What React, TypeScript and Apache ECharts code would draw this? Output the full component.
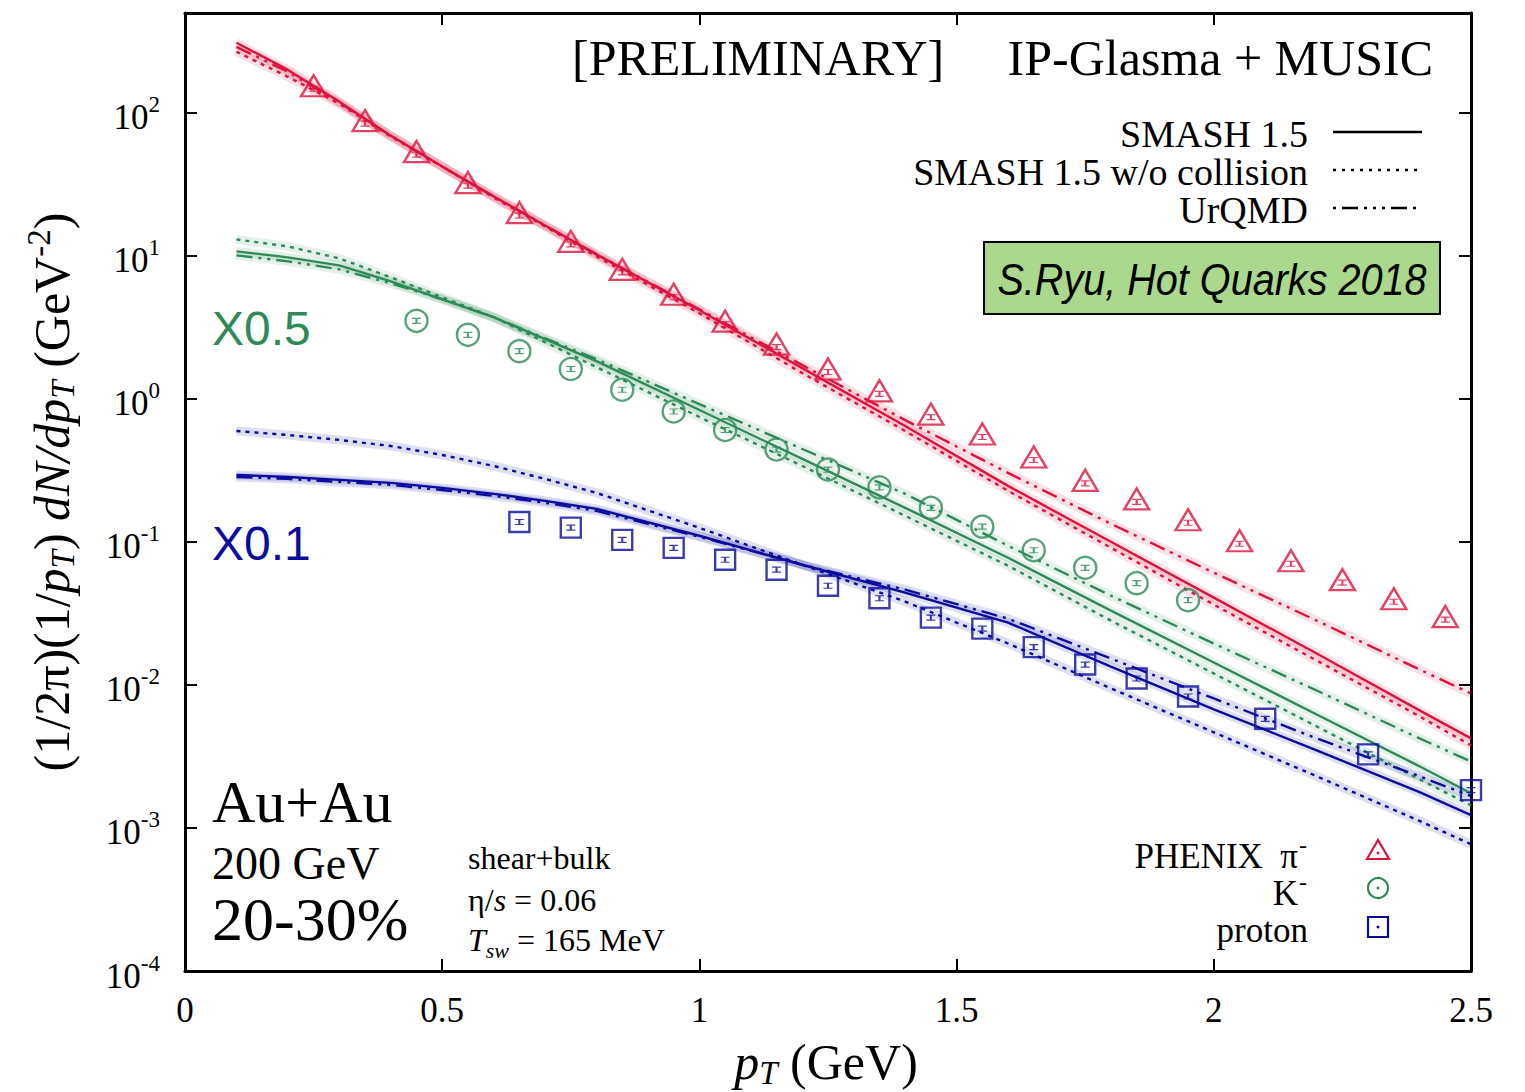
import React, { useEffect, useRef } from 'react';
import * as echarts from 'echarts';

const SERIF = '"Liberation Serif", "Times New Roman", serif';
const SANS = '"Liberation Sans", Arial, sans-serif';
const RED = '#dc143c';
const GREEN = '#2e8b57';
const BLUE = '#0b0b9e';
const BOX = '#aad88c';

// PHENIX data points
const pionPt = [0.25, 0.35, 0.45, 0.55, 0.65, 0.75, 0.85, 0.95, 1.05, 1.15, 1.25, 1.35, 1.45, 1.55, 1.65, 1.75, 1.85, 1.95, 2.05, 2.15, 2.25, 2.35, 2.45];
const pionData = [155, 88.4, 53.7, 32.6, 20.1, 12.65, 8.06, 5.4, 3.5, 2.42, 1.62, 1.14, 0.784, 0.569, 0.393, 0.27, 0.2, 0.143, 0.102, 0.0739, 0.0545, 0.0401, 0.0301];
const kaonPt = [0.45, 0.55, 0.65, 0.75, 0.85, 0.95, 1.05, 1.15, 1.25, 1.35, 1.45, 1.55, 1.65, 1.75, 1.85, 1.95];
const kaonData = [3.52, 2.81, 2.16, 1.62, 1.16, 0.817, 0.607, 0.443, 0.321, 0.241, 0.173, 0.128, 0.0875, 0.066, 0.0515, 0.0392];
const protonPt = [0.65, 0.75, 0.85, 0.95, 1.05, 1.15, 1.25, 1.35, 1.45, 1.55, 1.65, 1.75, 1.85, 1.95, 2.1, 2.3, 2.5];
const protonData = [0.138, 0.126, 0.1035, 0.091, 0.0751, 0.064, 0.0494, 0.0404, 0.0296, 0.0248, 0.0184, 0.0139, 0.0111, 0.00831, 0.0058, 0.00327, 0.00184];

// model curves
const curvePt = [0.1, 0.2, 0.3, 0.4, 0.5, 0.6, 0.7, 0.8, 1.0, 1.2, 1.4, 1.6, 1.8, 2.0, 2.2, 2.4, 2.5];
const pionSmash = [310, 200, 120, 69.4, 42.2, 26.1, 16.35, 10.26, 4.17, 1.643, 0.647, 0.2467, 0.1003, 0.0408, 0.01659, 0.00664, 0.00423];
const pionNoColl = [268, 179, 116, 68.3, 42.2, 25.6, 16.09, 9.94, 3.97, 1.516, 0.597, 0.2277, 0.0911, 0.0365, 0.01483, 0.00603, 0.00378];
const pionUrqmd = [290, 194, 118, 69.4, 42.2, 26.1, 16.35, 10.26, 4.24, 1.724, 0.712, 0.304, 0.134, 0.061, 0.0282, 0.01283, 0.00872];
const kaonSmash = [10.77, 9.78, 8.6, 6.65, 4.98, 3.73, 2.62, 1.839, 0.837, 0.381, 0.1733, 0.0776, 0.0331, 0.01436, 0.00622, 0.0027, 0.00175];
const kaonNoColl = [13.05, 11.67, 9.62, 7.09, 5.14, 3.73, 2.495, 1.67, 0.748, 0.34, 0.1523, 0.0682, 0.0282, 0.01203, 0.00513, 0.00219, 0.00144];
const kaonUrqmd = [10.1, 9.17, 8.06, 6.44, 4.98, 3.73, 2.66, 1.898, 0.921, 0.447, 0.217, 0.0941, 0.0421, 0.01948, 0.00915, 0.00423, 0.00292];
const protonSmash = [0.294, 0.285, 0.272, 0.259, 0.239, 0.217, 0.194, 0.1705, 0.1105, 0.0693, 0.0442, 0.0273, 0.01346, 0.00675, 0.00349, 0.00178, 0.00123];
const protonNoColl = [0.597, 0.56, 0.517, 0.469, 0.406, 0.34, 0.276, 0.2205, 0.1256, 0.0693, 0.0383, 0.0195, 0.00947, 0.00467, 0.0023, 0.00112, 0.00077];
const protonUrqmd = [0.285, 0.276, 0.263, 0.251, 0.231, 0.21, 0.188, 0.165, 0.1087, 0.0693, 0.0464, 0.0291, 0.0153, 0.00805, 0.00423, 0.0023, 0.00167];

const xTickLabels = ['0', '0.5', '1', '1.5', '2', '2.5'];

const DOTTED = [4, 5];
const DASHDOT = [16, 6, 3, 6, 3, 6];

function curve(data: number[], color: string, type: any) {
  const pts = curvePt.map((x, i) => [x, data[i]]);
  return [
    { type: 'line', data: pts, showSymbol: false, symbol: 'none', silent: true, z: 2,
      lineStyle: { color, width: 9, opacity: 0.13, type: 'solid' } },
    { type: 'line', data: pts, showSymbol: false, symbol: 'none', silent: true, z: 3,
      lineStyle: { color, width: 2.4, type } },
  ];
}

const IBEAM = 'path://M-4,-2L4,-2M0,-2L0,2M-4,2L4,2';

function points(xs: number[], ys: number[], color: string, symbol: string, size: any, barOffset: number) {
  const pts = xs.map((x, i) => [x, ys[i]]);
  return [
    { type: 'scatter', data: pts, symbol, symbolSize: size, silent: true, z: 5,
      itemStyle: { color: 'rgba(0,0,0,0)', borderColor: color, borderWidth: 2.4 } },
    { type: 'scatter', data: pts, symbol: IBEAM, symbolSize: [9, 5], symbolOffset: [0, barOffset], silent: true, z: 6,
      itemStyle: { color: 'rgba(0,0,0,0)', borderColor: color, borderWidth: 1.6 } },
  ];
}

function txt(x: number, y: number, text: string, o: any = {}) {
  const align = o.align || 'left';
  return {
    type: 'text', x, y, silent: true, z: 100,
    scaleX: o.scaleX || 1, rotation: o.rotation || 0,
    style: {
      text, fill: o.color || '#000',
      textAlign: align, align, textVerticalAlign: 'middle', verticalAlign: 'middle',
      fontFamily: o.family || SERIF, fontSize: o.size || 34, fontStyle: o.fontStyle || 'normal',
      rich: o.rich,
    },
  };
}

function legendLine(y: number, dash: any) {
  return { type: 'line', silent: true, z: 100,
    shape: { x1: 1333, y1: y, x2: 1422, y2: y },
    style: { stroke: '#000', lineWidth: 2.4, lineDash: dash } };
}

export default function App() {
  const ref = useRef<HTMLDivElement>(null);
  useEffect(() => {
    if (!ref.current) return;
    const chart = echarts.init(ref.current, undefined, { renderer: 'svg' });
    const axisLine = { show: true, onZero: false, lineStyle: { color: '#000', width: 3 } };
    const axisTick = { show: true, inside: true, length: 12, lineStyle: { color: '#000', width: 2 } };
    const option: any = {
      animation: false,
      backgroundColor: '#fff',
      grid: { left: 185, top: 13, width: 1286, height: 958, outerBoundsMode: 'none' },
      xAxis: [
        { type: 'value', min: 0, max: 2.5, interval: 0.5, position: 'bottom', axisLine, axisTick,
          splitLine: { show: false },
          axisLabel: { fontFamily: SERIF, fontSize: 35, color: '#000', margin: 22,
            formatter: (v: number) => xTickLabels[Math.round(v / 0.5)] ?? '' } },
        { type: 'value', min: 0, max: 2.5, interval: 0.5, position: 'top', axisLine, axisTick,
          splitLine: { show: false }, axisLabel: { show: false } },
      ],
      yAxis: [
        { type: 'log', logBase: 10, min: 1e-4, max: 500, position: 'left', axisLine, axisTick,
          splitLine: { show: false }, minorTick: { show: false },
          axisLabel: {
            margin: 25, color: '#000', fontFamily: SERIF,
            formatter: (v: number) => {
              const e = Math.log10(v);
              const r = Math.round(e);
              if (Math.abs(e - r) > 1e-6) return '';
              return `{b|10}{s|${r}}`;
            },
            rich: {
              b: { fontFamily: SERIF, fontSize: 35, color: '#000', padding: [10, 0, 0, 0] },
              s: { fontFamily: SERIF, fontSize: 23, color: '#000', padding: [0, 0, 16, 0] },
            },
          } },
        { type: 'log', logBase: 10, min: 1e-4, max: 500, position: 'right', axisLine, axisTick,
          splitLine: { show: false }, axisLabel: { show: false } },
      ],
      series: [
        ...curve(pionSmash, RED, 'solid'),
        ...curve(pionNoColl, RED, DOTTED),
        ...curve(pionUrqmd, RED, DASHDOT),
        ...curve(kaonSmash, GREEN, 'solid'),
        ...curve(kaonNoColl, GREEN, DOTTED),
        ...curve(kaonUrqmd, GREEN, DASHDOT),
        ...curve(protonSmash, BLUE, 'solid'),
        ...curve(protonNoColl, BLUE, DOTTED),
        ...curve(protonUrqmd, BLUE, DASHDOT),
        ...points(pionPt, pionData, RED, 'triangle', [25, 21], 3),
        ...points(kaonPt, kaonData, GREEN, 'circle', 22, 0),
        ...points(protonPt, protonData, BLUE, 'rect', 20, 0),
      ],
      graphic: [
        txt(572, 58, '[PRELIMINARY]', { size: 50 }),
        txt(1433, 58, 'IP-Glasma + MUSIC', { size: 50, align: 'right' }),
        txt(1308, 134, 'SMASH 1.5', { size: 38, align: 'right' }),
        txt(1308, 172, 'SMASH 1.5 w/o collision', { size: 38, align: 'right' }),
        txt(1308, 210, 'UrQMD', { size: 38, align: 'right' }),
        legendLine(132, null),
        legendLine(170, [3, 6]),
        legendLine(208, [3, 6, 16, 6, 3, 6, 3, 6]),
        { type: 'rect', silent: true, z: 90, shape: { x: 984, y: 242, width: 456, height: 72 },
          style: { fill: BOX, stroke: '#000', lineWidth: 2 } },
        txt(1212, 280, 'S.Ryu, Hot Quarks 2018', { size: 44, family: SANS, fontStyle: 'italic', align: 'center', scaleX: 0.9 }),
        txt(212, 328, 'X0.5', { size: 48, family: SANS, color: GREEN }),
        txt(212, 543, 'X0.1', { size: 48, family: SANS, color: BLUE }),
        txt(212, 802, 'Au+Au', { size: 60 }),
        txt(212, 863, '200 GeV', { size: 46 }),
        txt(212, 919, '20-30%', { size: 62 }),
        txt(468, 858, 'shear+bulk', { size: 32 }),
        txt(468, 900, '{n|η/}{i|s}{n| = 0.06}', { size: 32, rich: {
          n: { fontSize: 32, fontFamily: SERIF },
          i: { fontSize: 32, fontFamily: SERIF, fontStyle: 'italic' } } }),
        txt(468, 940, '{i|T}{sub|sw}{n| = 165 MeV}', { size: 32, rich: {
          n: { fontSize: 32, fontFamily: SERIF },
          i: { fontSize: 32, fontFamily: SERIF, fontStyle: 'italic' },
          sub: { fontSize: 22, fontFamily: SERIF, fontStyle: 'italic', padding: [20, 0, 0, 0] } } }),
        txt(1298, 856, 'PHENIX  π', { size: 35, align: 'right' }),
        txt(1299, 845, '-', { size: 24 }),
        txt(1298, 893, 'K', { size: 35, align: 'right' }),
        txt(1299, 882, '-', { size: 24 }),
        txt(1308, 930, 'proton', { size: 35, align: 'right' }),
        { type: 'polygon', silent: true, z: 100, shape: { points: [[1367, 859], [1378, 840], [1389, 859]] },
          style: { fill: 'none', stroke: RED, lineWidth: 2.2 } },
        { type: 'circle', silent: true, z: 100, shape: { cx: 1378, cy: 853, r: 1.5 }, style: { fill: RED } },
        { type: 'circle', silent: true, z: 100, shape: { cx: 1378, cy: 888, r: 10 },
          style: { fill: 'none', stroke: GREEN, lineWidth: 2.2 } },
        { type: 'circle', silent: true, z: 100, shape: { cx: 1378, cy: 888, r: 1.5 }, style: { fill: GREEN } },
        { type: 'rect', silent: true, z: 100, shape: { x: 1368, y: 917, width: 20, height: 20 },
          style: { fill: 'none', stroke: BLUE, lineWidth: 2.2 } },
        { type: 'circle', silent: true, z: 100, shape: { cx: 1378, cy: 927, r: 1.5 }, style: { fill: BLUE } },
        txt(826, 1062, '{i|p}{sub|T}{n| (GeV)}', { size: 50, align: 'center', rich: {
          n: { fontSize: 50, fontFamily: SERIF },
          i: { fontSize: 50, fontFamily: SERIF, fontStyle: 'italic' },
          sub: { fontSize: 33, fontFamily: SERIF, fontStyle: 'italic', padding: [22, 0, 0, 0] } } }),
        txt(52, 492, '{n|(1/2π)(1/}{i|p}{sub|T}{n|) }{i|dN/dp}{sub|T}{n| (GeV}{sup|-2}{n|)}', {
          size: 50, align: 'center', rotation: Math.PI / 2, rich: {
            n: { fontSize: 50, fontFamily: SERIF },
            i: { fontSize: 50, fontFamily: SERIF, fontStyle: 'italic' },
            sub: { fontSize: 33, fontFamily: SERIF, fontStyle: 'italic', padding: [22, 0, 0, 0] },
            sup: { fontSize: 33, fontFamily: SERIF, padding: [0, 0, 26, 0] } } }),
      ],
    };
    chart.setOption(option);
    return () => chart.dispose();
  }, []);
  return <div ref={ref} style={{ position: 'fixed', left: 0, top: 0, width: 1525, height: 1092, background: '#fff' }} />;
}
